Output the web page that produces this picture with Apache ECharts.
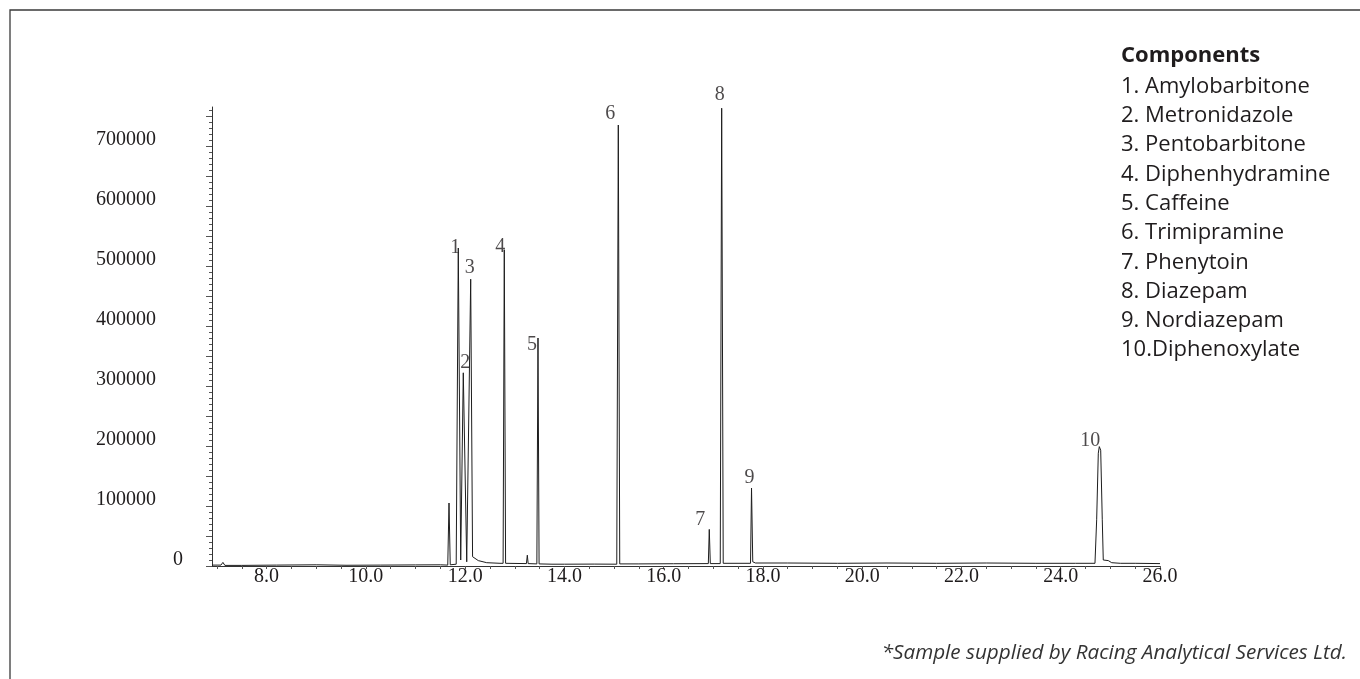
<!DOCTYPE html>
<html>
<head>
<meta charset="utf-8">
<script src="https://cdn.jsdelivr.net/npm/echarts@6/dist/echarts.min.js"></script>
<style>
  html, body { margin: 0; padding: 0; background: #ffffff; }
  #chart { width: 1360px; height: 679px; }
</style>
</head>
<body>
<div id="chart"></div>
<script>
// Retention time window (min) and detector response range
const timeMin = 6.9;
const timeMax = 26.0;
const responseMax = 765000;

// Axis tick labels
const xTickLabels = [8, 10, 12, 14, 16, 18, 20, 22, 24, 26];
const yTickLabels = [0, 100000, 200000, 300000, 400000, 500000, 600000, 700000];

// Numbered peaks: retention time (min) and apex response
const peakNumbers = ['1', '2', '3', '4', '5', '6', '7', '8', '9', '10'];
const peakTimes   = [11.862, 11.963, 12.112, 12.789, 13.468, 15.086, 16.919, 17.169, 17.770, 24.777];
const peakHeights = [530000, 322000, 478000, 527000, 380000, 735000, 61000, 763000, 130000, 199000];

// Unnumbered minor peaks [time, response]
const minorPeaks = [
  [7.12, 6000], [11.675, 105000], [13.253, 18000], [13.77, 6000]
];

// Baseline, valleys and peak flanks [time, response]
const baselinePoints = [
  [6.90, 1500], [7.08, 1500], [7.16, 1000], [7.50, 1000], [8.20, 1500], [9.00, 2000],
  [9.60, 1200], [10.30, 1500], [11.00, 1800], [11.50, 2000], [11.65, 1500], [11.70, 2000],
  [11.82, 3000], [11.911, 10000], [12.032, 7000], [12.150, 15500], [12.265, 9000],
  [12.435, 5500], [12.702, 4500], [12.765, 4500], [12.815, 4500], [13.235, 4000],
  [13.270, 4000], [13.445, 3500], [13.490, 3500], [13.750, 3000], [13.790, 3000],
  [14.00, 3000], [14.60, 3200], [15.055, 3000], [15.115, 3500], [15.50, 3500],
  [16.20, 3800], [16.90, 4000], [16.94, 4000], [17.14, 4000], [17.20, 4500],
  [17.75, 4500], [17.795, 7000], [17.85, 5000], [18.50, 5000], [19.50, 4500],
  [20.50, 5000], [21.50, 4500], [22.50, 5000], [23.50, 4500], [24.30, 4500],
  [24.690, 4500], [24.724, 77000], [24.757, 188000], [24.805, 193000], [24.837, 77000],
  [24.857, 10000], [24.958, 9000], [25.027, 5500], [25.20, 4500], [25.50, 4500], [26.00, 4000]
];

// Legend of numbered components
const components = [
  '1. Amylobarbitone', '2. Metronidazole', '3. Pentobarbitone', '4. Diphenhydramine',
  '5. Caffeine', '6. Trimipramine', '7. Phenytoin', '8. Diazepam', '9. Nordiazepam',
  '10.Diphenoxylate'
];
const footnote = '*Sample supplied by Racing Analytical Services Ltd.';

// Label nudges (px) relative to each peak apex
const peakLabelOffsets = [
  [-3, 0], [2, -10], [-1, -11], [-4, -3], [-6, 7],
  [-8, -11], [-9, -10], [-2, -13], [-2, -10], [-9, -6]
];

// Full trace: apexes, minor peaks and baseline merged in time order
const trace = baselinePoints
  .concat(minorPeaks)
  .concat(peakTimes.map((t, i) => [t, peakHeights[i]]))
  .sort((a, b) => a[0] - b[0]);

// Tick positions
const xMinorTicks = [];
for (let t = 7.0; t <= 26.0001; t += 0.5) xMinorTicks.push(+t.toFixed(1));
const yMajorTicks = [];
for (let v = 0; v <= 750000; v += 50000) yMajorTicks.push(v);
const yMinorTicks = [];
for (let v = 0; v <= 760000; v += 10000) yMinorTicks.push(v);

const ink = '#1f1c1d';
const serif = '"Liberation Serif", "Times New Roman", serif';
const sans = '"Open Sans", "Noto Sans", sans-serif';

const chart = echarts.init(document.getElementById('chart'), null, { renderer: 'canvas' });

const graphics = [
  {
    type: 'rect', silent: true,
    shape: { x: 10, y: 10, width: 1400, height: 720 },
    style: { fill: 'none', stroke: '#3a3a3a', lineWidth: 1.3 }
  },
  {
    type: 'text', silent: true, left: 1121, top: 45,
    style: { text: 'Components', font: 'bold 22px ' + sans, fill: ink }
  },
  {
    type: 'text', silent: true, right: 13, top: 643,
    style: { text: footnote, font: 'italic 20.7px ' + sans, fill: '#333333' }
  }
];
components.forEach((name, i) => {
  graphics.push({
    type: 'text', silent: true, left: 1121, top: 75.5 + i * 29.3,
    style: { text: name, font: '22px ' + sans, fill: ink }
  });
});

chart.setOption({
  animation: false,
  backgroundColor: '#ffffff',
  grid: { left: 212, right: 200, top: 107, bottom: 113 },
  xAxis: {
    type: 'value',
    min: timeMin,
    max: timeMax,
    axisLine: { show: true, lineStyle: { color: '#333333', width: 1 } },
    axisTick: { show: true, customValues: xMinorTicks, length: 3, lineStyle: { color: '#555555' } },
    axisLabel: {
      customValues: xTickLabels,
      formatter: v => v.toFixed(1),
      fontFamily: serif, fontSize: 20, color: ink, margin: 1
    },
    splitLine: { show: false }
  },
  yAxis: [
    {
      type: 'value',
      position: 'left',
      min: 0,
      max: responseMax,
      axisLine: { show: true, lineStyle: { color: '#333333', width: 1 } },
      axisTick: { show: true, customValues: yMajorTicks, length: 6, lineStyle: { color: '#555555' } },
      axisLabel: {
        customValues: yTickLabels,
        margin: 29,
        formatter: v => v === 0 ? '{z|0}' : '{a|' + v + '}',
        rich: {
          a: { fontFamily: serif, fontSize: 20, color: ink, padding: [0, 27, 12, 0] },
          z: { fontFamily: serif, fontSize: 20, color: ink, padding: [0, 0, 12, 0] }
        }
      },
      splitLine: { show: false }
    },
    {
      type: 'value',
      position: 'left',
      min: 0,
      max: responseMax,
      axisLine: { show: false },
      axisTick: { show: true, customValues: yMinorTicks, length: 3, lineStyle: { color: '#555555' } },
      axisLabel: { show: false },
      splitLine: { show: false }
    }
  ],
  series: [
    {
      name: 'Chromatogram',
      type: 'line',
      yAxisIndex: 0,
      data: trace,
      showSymbol: false,
      symbol: 'none',
      silent: true,
      lineStyle: { color: '#1e1e1e', width: 1 },
      z: 2
    },
    {
      name: 'Peak numbers',
      type: 'scatter',
      yAxisIndex: 0,
      symbolSize: 0,
      silent: true,
      data: peakTimes.map((t, i) => ({
        name: peakNumbers[i],
        value: [t, peakHeights[i]],
        label: { offset: peakLabelOffsets[i] }
      })),
      label: {
        show: true,
        position: 'inside',
        formatter: '{b}',
        fontFamily: serif,
        fontSize: 20,
        color: ink
      },
      z: 3
    }
  ],
  graphic: graphics
});
</script>
</body>
</html>
